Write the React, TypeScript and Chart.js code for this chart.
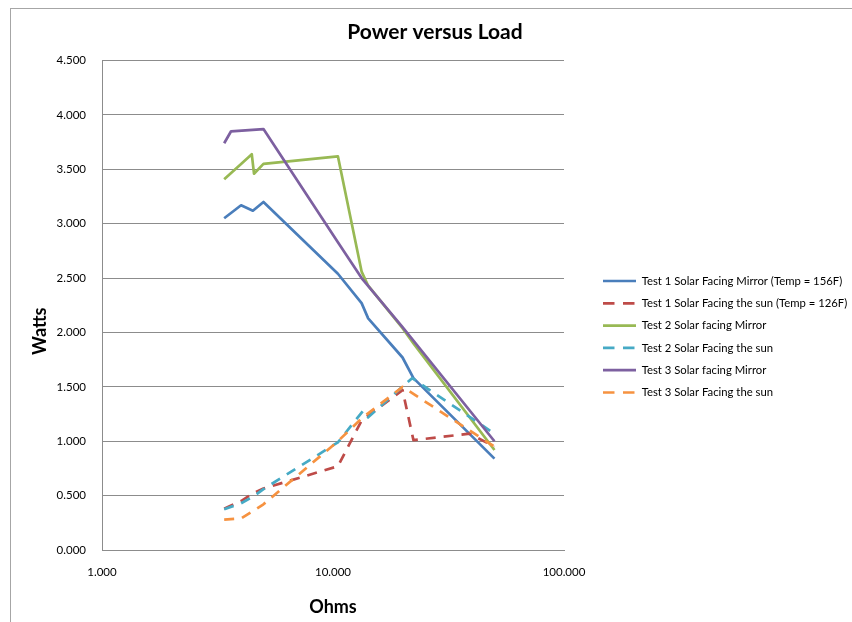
import React, { useEffect, useRef } from 'react';
import { Chart, registerables, layouts } from 'chart.js';

Chart.register(...registerables);

// ---------------- data ----------------
const seriesLabels = [
  'Test 1 Solar Facing Mirror (Temp = 156F)',
  'Test 1 Solar Facing the sun (Temp = 126F)',
  'Test 2 Solar facing Mirror',
  'Test 2 Solar Facing the sun',
  'Test 3 Solar facing Mirror',
  'Test 3 Solar Facing the sun',
];
const seriesColors = ['#4A7EBB', '#BE4B48', '#98B954', '#46AAC5', '#7D60A0', '#F69240'];
const seriesDashed = [false, true, false, true, false, true];

const t1MirrorOhms = [3.38, 4.0, 4.5, 5.0, 10.5, 13.3, 14.2, 20.0, 22.3, 50.0];
const t1MirrorWatts = [3.05, 3.17, 3.12, 3.2, 2.54, 2.27, 2.13, 1.77, 1.58, 0.84];

const t1SunOhms = [3.38, 4.0, 4.5, 5.0, 10.5, 13.3, 20.0, 22.3, 39.0, 50.0];
const t1SunWatts = [0.38, 0.45, 0.52, 0.565, 0.77, 1.19, 1.47, 1.01, 1.07, 0.95];

const t2MirrorOhms = [3.38, 4.0, 4.45, 4.55, 5.0, 10.5, 13.3, 14.2, 20.0, 22.3, 50.0];
const t2MirrorWatts = [3.41, 3.55, 3.64, 3.46, 3.55, 3.62, 2.56, 2.43, 2.04, 1.9, 0.92];

const t2SunOhms = [3.38, 4.0, 4.5, 5.0, 10.5, 13.5, 14.2, 22.0, 50.0];
const t2SunWatts = [0.375, 0.43, 0.49, 0.56, 0.99, 1.28, 1.22, 1.58, 1.07];

const t3MirrorOhms = [3.38, 3.62, 5.0, 10.5, 13.3, 20.0, 50.0];
const t3MirrorWatts = [3.74, 3.85, 3.87, 2.83, 2.5, 2.05, 1.0];

const t3SunOhms = [3.38, 4.0, 5.0, 10.5, 13.3, 20.0, 50.0];
const t3SunWatts = [0.28, 0.29, 0.42, 1.0, 1.21, 1.5, 0.95];

const xTickValues = [1, 10, 100];
const yTickValues = [0, 0.5, 1, 1.5, 2, 2.5, 3, 3.5, 4, 4.5];

const chartTitle = 'Power versus Load';
const xAxisTitle = 'Ohms';
const yAxisTitle = 'Watts';

// ---------------- layout constants ----------------
const W = 852;
const H = 622;
const PLOT_LEFT = 102;
const PLOT_RIGHT = 564;
const LEGEND_LINE_X = 603;
const LEGEND_PAD = 11;
const LEGEND_FONT = 11.3;
const FONT = 'Lato, "Open Sans", sans-serif';

const allOhms = [t1MirrorOhms, t1SunOhms, t2MirrorOhms, t2SunOhms, t3MirrorOhms, t3SunOhms];
const allWatts = [t1MirrorWatts, t1SunWatts, t2MirrorWatts, t2SunWatts, t3MirrorWatts, t3SunWatts];

export default function App() {
  const canvasRef = useRef<HTMLCanvasElement | null>(null);

  useEffect(() => {
    const canvas = canvasRef.current;
    if (!canvas) return;
    const state = { padL: 10, padR: -8 };
    const legendLeft = LEGEND_LINE_X - LEGEND_PAD;

    const datasets = seriesLabels.map((label, i) => ({
      label,
      data: allOhms[i].map((x, j) => ({ x, y: allWatts[i][j] })),
      borderColor: seriesColors[i],
      backgroundColor: seriesColors[i],
      borderWidth: 2.7,
      borderDash: seriesDashed[i] ? [10, 8] : [],
      borderCapStyle: 'butt' as const,
      borderJoinStyle: 'round' as const,
      pointRadius: 0,
      pointHoverRadius: 0,
      tension: 0,
      fill: false,
      order: seriesLabels.length - i,
    }));

    const spacer: any = {
      position: 'right',
      weight: 500,
      fullSize: false,
      options: {},
      left: 0, top: 0, right: 0, bottom: 0, width: 0, height: 0,
      isHorizontal() { return false; },
      update(_mw: number, mh: number) {
        this.width = legendLeft - PLOT_RIGHT;
        this.height = mh;
      },
      draw() {},
    };

    const gapPlugin = {
      id: 'legendGap',
      beforeInit(chart: any) {
        layouts.addBox(chart, spacer);
      },
    };

    const yTitlePlugin = {
      id: 'yTitleDraw',
      afterDraw(chart: any) {
        const { ctx, chartArea } = chart;
        ctx.save();
        ctx.translate(chartArea.left - 62, chartArea.top + chartArea.height * 0.553);
        ctx.rotate(-Math.PI / 2);
        ctx.font = `bold 18px ${FONT}`;
        ctx.fillStyle = '#000000';
        ctx.textAlign = 'center';
        ctx.textBaseline = 'middle';
        ctx.fillText(yAxisTitle, 0, 0);
        ctx.restore();
      },
    };

    const chart = new Chart(canvas, {
      type: 'line',
      data: { datasets },
      plugins: [gapPlugin, yTitlePlugin],
      options: {
        responsive: false,
        animation: false,
        events: [],
        layout: { padding: { left: state.padL, right: state.padR, top: 0, bottom: 0 } },
        plugins: {
          tooltip: { enabled: false },
          title: {
            display: true,
            text: chartTitle,
            color: '#000000',
            font: { family: FONT, size: 21, weight: 'bold', lineHeight: 1.2 },
            padding: { top: 19.4, bottom: 16 },
          },
          legend: {
            display: true,
            position: 'right',
            align: 'center',
            fullSize: false,
            maxWidth: 400,
            title: {
              display: true,
              text: ' ',
              font: { size: 1, lineHeight: 1 },
              padding: { top: 0, bottom: 61.9 },
            },
            labels: {
              usePointStyle: true,
              pointStyleWidth: 33,
              padding: LEGEND_PAD,
              color: '#000000',
              font: { family: FONT, size: LEGEND_FONT },
              generateLabels: (c: any) =>
                c.data.datasets.map((ds: any, i: number) => ({
                  text: ds.label,
                  strokeStyle: ds.borderColor,
                  fillStyle: ds.borderColor,
                  lineWidth: 2.7,
                  lineDash: seriesDashed[i] ? [11.5, 8.5] : [],
                  lineCap: 'butt',
                  pointStyle: 'line',
                  hidden: false,
                  datasetIndex: i,
                  fontColor: '#000000',
                })),
            },
          },
        },
        scales: {
          x: {
            type: 'logarithmic',
            min: 1,
            max: 100,
            afterBuildTicks: (scale: any) => {
              scale.ticks = xTickValues.map((v) => ({ value: v }));
            },
            afterFit: (scale: any) => {
              scale.height = H - 550;
            },
            ticks: {
              padding: 15,
              color: '#000000',
              font: { family: FONT, size: 11.5 },
              maxRotation: 0,
              autoSkip: false,
              callback: (v: any) => Number(v).toFixed(3),
            },
            grid: { display: false, drawTicks: false },
            border: { display: true, color: '#8c8c8c', width: 1 },
            title: {
              display: true,
              text: xAxisTitle,
              color: '#000000',
              font: { family: FONT, size: 18, weight: 'bold', lineHeight: 1.2 },
              padding: { top: 10, bottom: 4.2 },
            },
          },
          y: {
            type: 'linear',
            min: 0,
            max: 4.5,
            afterBuildTicks: (scale: any) => {
              scale.ticks = yTickValues.map((v) => ({ value: v }));
            },
            afterFit: (scale: any) => {
              scale.width = PLOT_LEFT - state.padL;
            },
            ticks: {
              padding: 16,
              color: '#000000',
              font: { family: FONT, size: 11.5 },
              callback: (v: any) => Number(v).toFixed(3),
            },
            grid: { display: true, color: '#8c8c8c', lineWidth: 1, drawTicks: false },
            border: { display: true, color: '#8c8c8c', width: 1 },
            title: { display: false },
          },
        },
      } as any,
    });

    const lw = (chart as any).legend ? (chart as any).legend.width : 260;
    state.padR = W - legendLeft - lw;
    state.padL = state.padR + 18;
    (chart.options as any).layout.padding = { left: state.padL, right: state.padR, top: 0, bottom: 0 };
    chart.update();

    return () => {
      chart.destroy();
    };
  }, []);

  return (
    <div style={{ position: 'absolute', left: 0, top: 0, width: W, height: H, background: '#ffffff', overflow: 'hidden' }}>
      <div
        style={{
          position: 'absolute',
          left: 10,
          top: 8,
          width: W,
          height: H,
          borderLeft: '1px solid #a6a6a6',
          borderTop: '1px solid #a6a6a6',
        }}
      />
      <canvas ref={canvasRef} width={W} height={H} style={{ position: 'absolute', left: 0, top: 0, width: W, height: H }} />
    </div>
  );
}
